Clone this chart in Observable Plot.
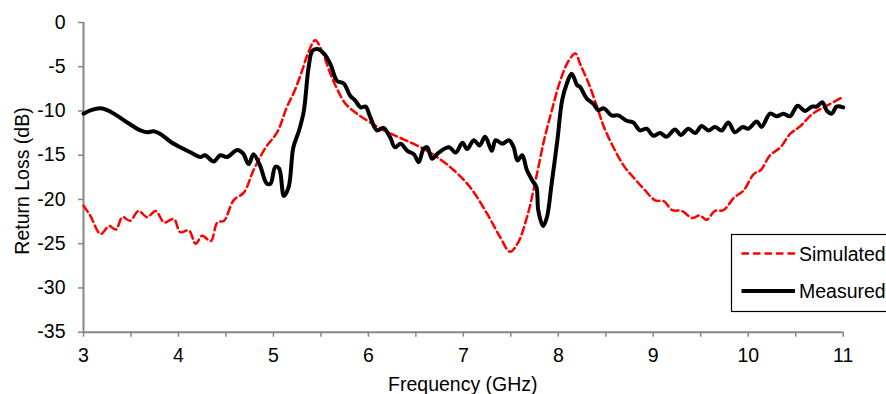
<!DOCTYPE html>
<html>
<head>
<meta charset="utf-8">
<script src="https://cdn.jsdelivr.net/npm/d3@7"></script>
<script src="https://cdn.jsdelivr.net/npm/@observablehq/plot@0.6"></script>
<style>
  html, body { margin: 0; padding: 0; background: #fff; }
  #chart { width: 886px; height: 394px; overflow: hidden; }
</style>
</head>
<body>
<div id="chart"></div>
<script>
// ---- data ----
const measuredFreq = [3.00,3.08,3.18,3.25,3.32,3.46,3.60,3.67,3.74,3.81,3.92,4.02,4.13,4.23,4.28,4.37,4.44,4.51,4.62,4.68,4.74,4.79,4.86,4.93,4.97,5.02,5.06,5.11,5.16,5.21,5.27,5.32,5.37,5.41,5.46,5.53,5.60,5.67,5.74,5.81,5.86,5.92,5.97,6.02,6.09,6.16,6.23,6.28,6.34,6.41,6.48,6.53,6.58,6.62,6.67,6.74,6.85,6.92,6.99,7.04,7.11,7.17,7.23,7.30,7.34,7.41,7.48,7.53,7.57,7.62,7.67,7.74,7.77,7.79,7.84,7.88,7.93,7.99,8.04,8.09,8.14,8.20,8.23,8.30,8.37,8.42,8.48,8.56,8.63,8.72,8.79,8.86,8.93,9.00,9.07,9.14,9.23,9.29,9.37,9.44,9.51,9.58,9.65,9.72,9.79,9.86,9.94,10.00,10.09,10.14,10.23,10.30,10.37,10.44,10.52,10.60,10.67,10.72,10.78,10.83,10.88,10.93,11.00];
const measuredLoss = [-10.3,-9.9,-9.7,-9.9,-10.3,-11.3,-12.2,-12.4,-12.3,-12.6,-13.5,-14.1,-14.7,-15.2,-15.0,-15.7,-15.0,-15.2,-14.4,-14.8,-16.0,-14.9,-16.2,-18.2,-18.2,-16.3,-16.5,-19.6,-18.6,-14.1,-12.2,-10.0,-5.1,-3.2,-3.0,-3.5,-4.7,-6.6,-6.9,-8.3,-8.8,-9.6,-9.5,-10.7,-12.2,-11.9,-13.0,-14.1,-13.7,-14.5,-14.9,-15.8,-14.3,-14.1,-15.4,-14.7,-14.1,-14.7,-13.6,-14.3,-13.3,-13.9,-12.9,-14.5,-13.3,-13.7,-13.3,-14.1,-15.6,-15.0,-16.7,-18.1,-18.6,-21.3,-23.0,-22.0,-18.2,-13.3,-8.8,-6.9,-5.8,-7.1,-7.3,-8.6,-9.2,-9.9,-9.7,-10.5,-10.5,-11.1,-11.3,-12.2,-12.0,-12.8,-12.5,-12.9,-12.1,-12.7,-12.0,-12.5,-11.7,-12.2,-11.8,-12.2,-11.3,-12.4,-11.8,-12.0,-11.2,-11.8,-10.3,-10.6,-10.3,-10.6,-9.4,-10.0,-9.5,-9.5,-9.0,-10.0,-10.3,-9.5,-9.6];

const simulatedFreq = [3.00,3.07,3.18,3.27,3.34,3.41,3.49,3.58,3.67,3.76,3.85,3.95,4.02,4.11,4.18,4.25,4.34,4.41,4.48,4.58,4.69,4.79,4.92,5.04,5.14,5.22,5.30,5.36,5.44,5.51,5.60,5.67,5.76,5.88,6.02,6.20,6.37,6.55,6.72,6.90,7.07,7.25,7.39,7.49,7.57,7.67,7.76,7.85,7.93,8.02,8.11,8.18,8.23,8.32,8.41,8.48,8.58,8.69,8.79,8.90,9.02,9.11,9.20,9.30,9.41,9.49,9.56,9.65,9.74,9.85,9.95,10.06,10.13,10.23,10.34,10.44,10.55,10.68,10.83,11.00];
const simulatedLoss = [-20.7,-21.8,-23.9,-23.0,-23.4,-22.0,-22.4,-21.3,-22.0,-21.3,-22.6,-22.2,-23.7,-23.5,-25.0,-24.1,-24.7,-22.6,-22.4,-20.1,-19.2,-16.7,-14.1,-12.4,-9.6,-7.8,-5.5,-3.6,-2.0,-3.2,-5.8,-7.5,-9.2,-10.3,-11.3,-12.4,-13.2,-14.1,-15.2,-16.7,-18.6,-21.6,-24.3,-25.9,-25.0,-22.0,-17.9,-13.3,-10.0,-6.6,-4.3,-3.5,-4.7,-6.9,-9.6,-11.8,-14.1,-16.2,-17.5,-18.8,-20.1,-20.2,-21.2,-21.3,-22.1,-21.8,-22.3,-21.3,-21.2,-19.8,-19.0,-17.1,-16.7,-15.0,-14.1,-12.6,-11.7,-10.3,-9.4,-8.4];

const xTicksMajor = [3,4,5,6,7,8,9,10,11];
const xTicksMinor = [3,3.5,4,4.5,5,5.5,6,6.5,7,7.5,8,8.5,9,9.5,10,10.5,11];
const yTicks = [0,-5,-10,-15,-20,-25,-30,-35];
const seriesNames = ["Simulated", "Measured"];
const xTitle = "Frequency (GHz)";
const yTitle = "Return Loss (dB)";

// ---- build tables ----
const measured = measuredFreq.map((f, i) => ({f, v: measuredLoss[i]}));
const simulated = simulatedFreq.map((f, i) => ({f, v: simulatedLoss[i]}));

const W = 886, H = 394;
const mL = 83, mR = 43.3, mT = 22, mB = 62.3;
const AXIS = "#868686";
const FONT = "'Liberation Sans', Arial, sans-serif";
const FS = 19.5;

const plot = Plot.plot({
  width: W,
  height: H,
  marginLeft: mL,
  marginRight: mR,
  marginTop: mT,
  marginBottom: mB,
  style: {fontFamily: FONT, fontSize: FS + "px", color: "black", background: "white", overflow: "visible"},
  x: {domain: [3, 11]},
  y: {domain: [-35, 0]},
  marks: [
    Plot.axisX({ticks: xTicksMinor, tickSize: 5, tickFormat: () => "", stroke: AXIS, strokeWidth: 1.5, label: null}),
    Plot.axisX({ticks: xTicksMajor, tickSize: 0, tickPadding: 16, tickFormat: d => String(d), label: null, fontSize: FS}),
    Plot.axisY({ticks: yTicks, tickSize: 5, tickPadding: 13, tickFormat: d => String(d), stroke: AXIS, strokeWidth: 1.5, label: null, fontSize: FS}),
    Plot.ruleY([-35], {stroke: AXIS, strokeWidth: 2}),
    Plot.ruleX([3], {stroke: AXIS, strokeWidth: 2}),
    Plot.line(simulated, {x: "f", y: "v", stroke: "#ff0000", strokeWidth: 2.5, strokeDasharray: "7.5,4", curve: "catmull-rom"}),
    Plot.line(measured, {x: "f", y: "v", stroke: "#000000", strokeWidth: 4, curve: "catmull-rom"})
  ]
});

document.getElementById("chart").appendChild(plot);

// ---- axis titles and legend ----
const svg = d3.select(plot);
svg.append("text")
  .attr("transform", "translate(29,181) rotate(-90)")
  .attr("text-anchor", "middle")
  .attr("font-family", FONT).attr("font-size", FS).attr("fill", "black")
  .text(yTitle);
svg.append("text")
  .attr("x", (mL + W - mR) / 2).attr("y", 391)
  .attr("text-anchor", "middle")
  .attr("font-family", FONT).attr("font-size", FS).attr("fill", "black")
  .text(xTitle);

const lg = svg.append("g");
lg.append("rect")
  .attr("x", 731.5).attr("y", 234.5).attr("width", 200).attr("height", 77)
  .attr("fill", "white").attr("stroke", "black").attr("stroke-width", 1.2);
const entries = [
  {name: seriesNames[0], stroke: "#ff0000", width: 2.5, dash: "7.5,4", y: 253.5},
  {name: seriesNames[1], stroke: "#000000", width: 4, dash: null, y: 291}
];
entries.forEach(e => {
  lg.append("line")
    .attr("x1", 741.5).attr("x2", 795).attr("y1", e.y).attr("y2", e.y)
    .attr("stroke", e.stroke).attr("stroke-width", e.width)
    .attr("stroke-dasharray", e.dash);
  lg.append("text")
    .attr("x", 799).attr("y", e.y + 7)
    .attr("text-anchor", "start")
    .attr("font-family", FONT).attr("font-size", FS).attr("fill", "black")
    .text(e.name);
});
</script>
</body>
</html>
